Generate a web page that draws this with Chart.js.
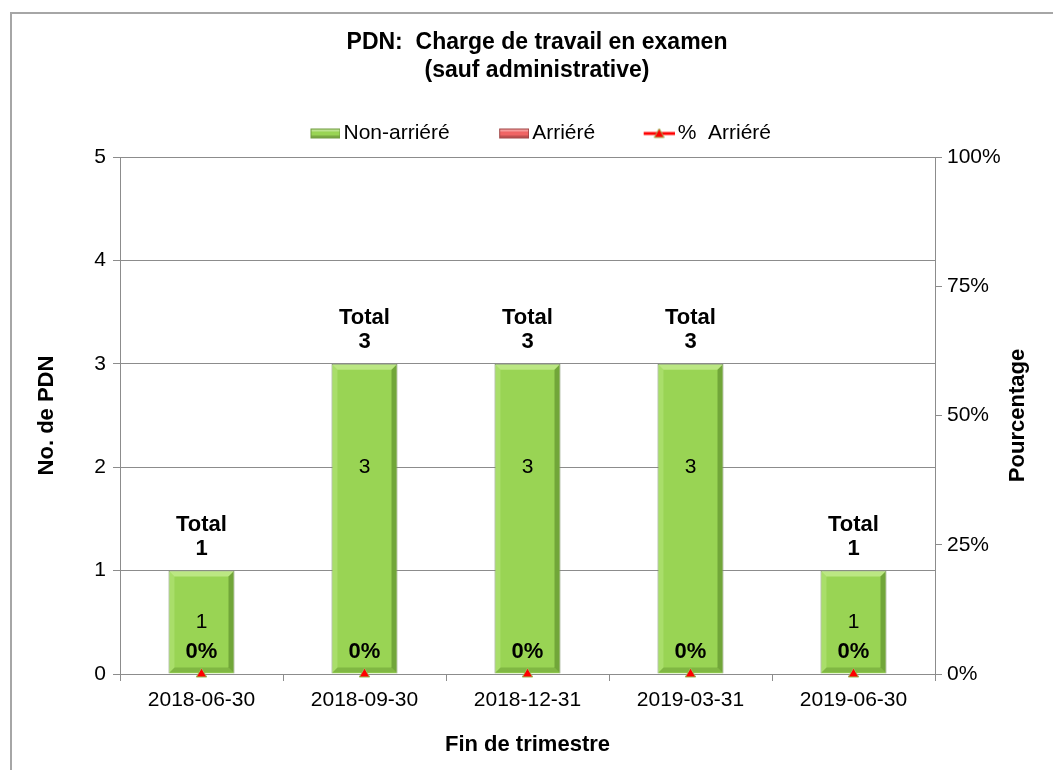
<!DOCTYPE html>
<html>
<head>
<meta charset="utf-8">
<script src="https://cdn.jsdelivr.net/npm/chart.js@4/dist/chart.umd.min.js"></script>
<style>
html,body{margin:0;padding:0;background:#fff;}
#wrap{width:1053px;height:770px;position:relative;}
</style>
</head>
<body>
<div id="wrap"><canvas id="c" width="1053" height="770"></canvas></div>
<script>
const categories = ['2018-06-30', '2018-09-30', '2018-12-31', '2019-03-31', '2019-06-30'];
const nonArriere = [1, 3, 3, 3, 1];
const arriere = [0, 0, 0, 0, 0];
const pctArriere = [0, 0, 0, 0, 0];
const countTicks = [0, 1, 2, 3, 4, 5];
const pctTicks = ['0%', '25%', '50%', '75%', '100%'];
const titleLines = ['PDN:  Charge de travail en examen', '(sauf administrative)'];
const seriesNames = ['Non-arriéré', 'Arriéré', '%  Arriéré'];

const FONT = "'Liberation Sans', Arial, sans-serif";
const GREEN = '#99d454', GREEN_B = '#7c8f6a';
const RED = '#f06464', RED_B = '#a04444';

function legendImg(kind) {
  const c = document.createElement('canvas');
  c.width = 45; c.height = 14;
  const g = c.getContext('2d');
  if (kind === 'line') {
    g.strokeStyle = '#ff0000'; g.lineWidth = 3;
    g.beginPath(); g.moveTo(14, 7); g.lineTo(45, 7); g.stroke();
    g.fillStyle = '#ff0000'; g.strokeStyle = '#9bbb59'; g.lineWidth = 1;
    g.beginPath(); g.moveTo(29.5, 2); g.lineTo(34.5, 11); g.lineTo(24.5, 11); g.closePath(); g.fill(); g.stroke();
  } else {
    const f = kind === 'green' ? GREEN : RED, b = kind === 'green' ? '#6f9a3e' : RED_B;
    g.fillStyle = f; g.fillRect(15, 2, 30, 10);
    g.fillStyle = 'rgba(255,255,255,0.35)'; g.fillRect(16, 3, 28, 2);
    g.fillStyle = 'rgba(0,0,0,0.2)'; g.fillRect(16, 9, 28, 2);
    g.strokeStyle = b; g.lineWidth = 1; g.strokeRect(15.5, 2.5, 29, 9);
  }
  return c;
}
const legendImgs = [legendImg('green'), legendImg('red'), legendImg('line')];

const framePlugin = {
  id: 'frame',
  beforeDraw(chart) {
    const ctx = chart.ctx;
    ctx.save();
    ctx.fillStyle = '#fff';
    ctx.fillRect(0, 0, chart.width, chart.height);
    ctx.strokeStyle = '#a6a6a6'; ctx.lineWidth = 2;
    ctx.strokeRect(11, 13, 1200, 900);
    ctx.restore();
  }
};

// bevel shading over the library-drawn bars
const bevelPlugin = {
  id: 'bevel',
  afterDatasetDraw(chart, args) {
    if (args.index !== 0) return;
    const ctx = chart.ctx;
    const b = 5;
    args.meta.data.forEach(el => {
      const p = el.getProps(['x', 'y', 'base', 'width'], true);
      const l = p.x - p.width / 2 + 1, r = p.x + p.width / 2 - 1;
      const t = Math.min(p.y, p.base) + 1, bt = Math.max(p.y, p.base) - 1;
      if (bt - t < 2 * b) return;
      ctx.save();
      const quad = (pts, col) => {
        ctx.beginPath(); ctx.moveTo(pts[0][0], pts[0][1]);
        for (let k = 1; k < pts.length; k++) ctx.lineTo(pts[k][0], pts[k][1]);
        ctx.closePath(); ctx.fillStyle = col; ctx.fill();
      };
      quad([[l, t], [r, t], [r - b, t + b], [l + b, t + b]], 'rgba(215,245,170,0.55)');
      quad([[l, t], [l + b, t + b], [l + b, bt - b], [l, bt]], 'rgba(200,240,150,0.35)');
      quad([[r, t], [r, bt], [r - b, bt - b], [r - b, t + b]], 'rgba(40,80,10,0.35)');
      quad([[l, bt], [l + b, bt - b], [r - b, bt - b], [r, bt]], 'rgba(40,80,10,0.22)');
      ctx.restore();
    });
  }
};

const labelPlugin = {
  id: 'labels',
  afterDatasetsDraw(chart) {
    const ctx = chart.ctx;
    const y = chart.scales.y, y1 = chart.scales.y1;
    const meta = chart.getDatasetMeta(0);
    ctx.save();
    ctx.fillStyle = '#000';
    ctx.textAlign = 'center';
    ctx.textBaseline = 'middle';
    categories.forEach((_, i) => {
      const x = meta.data[i].x;
      const total = nonArriere[i] + arriere[i];
      const top = y.getPixelForValue(total);
      ctx.font = 'bold 22px ' + FONT;
      ctx.fillText('Total', x, top - 46);
      ctx.fillText(String(total), x, top - 22);
      const mid = (y.getPixelForValue(nonArriere[i]) + y.getPixelForValue(Math.max(nonArriere[i] - 2, 0))) / 2;
      ctx.font = '21px ' + FONT;
      ctx.fillText(String(nonArriere[i]), x, mid);
      ctx.font = 'bold 22px ' + FONT;
      ctx.fillText(Math.round(pctArriere[i] * 100) + '%', x, y1.getPixelForValue(pctArriere[i]) - 22);
    });
    ctx.translate(1018, (chart.chartArea.top + chart.chartArea.bottom) / 2);
    ctx.rotate(-Math.PI / 2);
    ctx.font = 'bold 22px ' + FONT;
    ctx.fillText('Pourcentage', 0, 0);
    ctx.restore();
  }
};

new Chart(document.getElementById('c'), {
  data: {
    labels: categories,
    datasets: [
      { type: 'bar', label: seriesNames[0], data: nonArriere, yAxisID: 'y', stack: 's',
        backgroundColor: GREEN, borderColor: GREEN_B, borderWidth: 1,
        categoryPercentage: 1, barPercentage: 0.405, order: 1 },
      { type: 'bar', label: seriesNames[1], data: arriere, yAxisID: 'y', stack: 's',
        backgroundColor: RED, borderColor: RED_B, borderWidth: 1,
        categoryPercentage: 1, barPercentage: 0.405, order: 1 },
      { type: 'line', label: seriesNames[2], data: pctArriere, yAxisID: 'y1',
        borderColor: '#ff0000', backgroundColor: '#ff0000', showLine: false,
        pointStyle: 'triangle', pointRadius: 6, pointBackgroundColor: '#ff0000',
        pointBorderColor: '#9bbb59', pointBorderWidth: 1, clip: false, order: 0 }
    ]
  },
  options: {
    responsive: false,
    animation: false,
    layout: { padding: { top: 0, left: 21, right: 0, bottom: 0 } },
    plugins: {
      title: {
        display: true, text: titleLines, color: '#000',
        font: { family: FONT, size: 23, weight: 'bold', lineHeight: '28px' },
        padding: { top: 29, bottom: -4 }
      },
      subtitle: {
        display: true, text: '', position: 'top', weight: 500,
        font: { size: 2, lineHeight: 1 }, padding: { top: 0, bottom: 1 }
      },
      legend: {
        display: true, position: 'top',
        labels: {
          usePointStyle: true, pointStyleWidth: 30, padding: 42,
          color: '#000', font: { family: FONT, size: 21 },
          sort(a, b) { return a.datasetIndex - b.datasetIndex; },
          generateLabels(chart) {
            const items = Chart.defaults.plugins.legend.labels.generateLabels(chart);
            items.forEach(it => { it.pointStyle = legendImgs[it.datasetIndex]; it.fontColor = '#000'; });
            return items;
          }
        }
      },
      tooltip: { enabled: false }
    },
    scales: {
      x: {
        stacked: true, offset: true,
        grid: { drawOnChartArea: false, drawTicks: true, tickLength: 7, color: '#8c8c8c', offset: true },
        border: { color: '#8c8c8c' },
        ticks: { color: '#000', font: { family: FONT, size: 21 }, padding: 7, maxRotation: 0 },
        title: { display: true, text: 'Fin de trimestre', color: '#000',
          font: { family: FONT, size: 22, weight: 'bold' }, padding: { top: 0, bottom: 12 } },
        afterFit(s) { s.height = 96; }
      },
      y: {
        stacked: true, position: 'left', min: 0, max: 5,
        afterBuildTicks(s) { s.ticks = countTicks.map(v => ({ value: v })); },
        grid: { color: '#8c8c8c', tickLength: 7, drawTicks: true },
        border: { color: '#8c8c8c' },
        ticks: { color: '#000', font: { family: FONT, size: 21 }, padding: 7 },
        title: { display: true, text: 'No. de PDN', color: '#000',
          font: { family: FONT, size: 22, weight: 'bold' }, padding: { top: 13, bottom: 0 } },
        afterFit(s) { s.width = 99; }
      },
      y1: {
        position: 'right', min: 0, max: 1,
        afterBuildTicks(s) { s.ticks = pctTicks.map((t, i) => ({ value: i / (pctTicks.length - 1) })); },
        grid: { drawOnChartArea: false, drawTicks: true, tickLength: 7, color: '#8c8c8c' },
        border: { color: '#8c8c8c' },
        ticks: { color: '#000', font: { family: FONT, size: 21 }, padding: 5,
          callback(v, i) { return pctTicks[i]; } },
        afterFit(s) { s.width = 118; }
      }
    }
  },
  plugins: [framePlugin, bevelPlugin, labelPlugin]
});
</script>
</body>
</html>
